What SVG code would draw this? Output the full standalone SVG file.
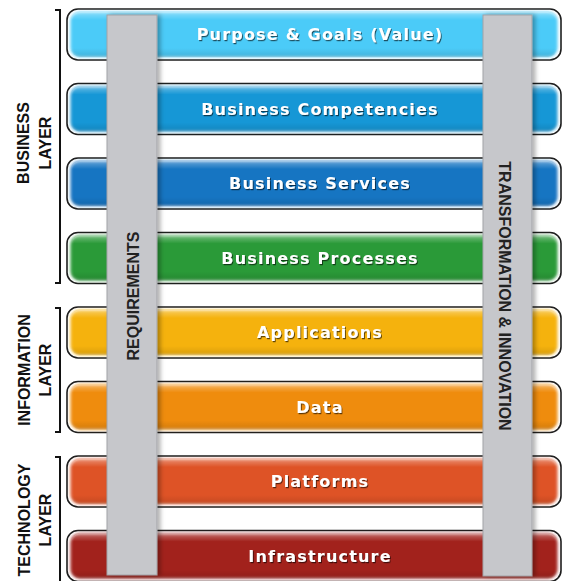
<svg xmlns="http://www.w3.org/2000/svg" width="562" height="581" viewBox="0 0 562 581">
<defs>
<style>
.outline{fill:#ffffff;stroke:#1e1e1e;stroke-width:1.6}
.band{filter:url(#soft)}
.hl{fill:url(#hlg)}
.lbl{font-family:"DejaVu Sans","Liberation Sans",Arial,sans-serif;font-weight:bold;font-size:16px;letter-spacing:1.2px;fill:#ffffff;text-anchor:middle;filter:url(#tshadow)}
.side{font-family:"Liberation Sans",Arial,sans-serif;font-weight:bold;font-size:16px;fill:#111111;text-anchor:middle}
.bar{fill:#c6c7cb;stroke:#a2a3a7;stroke-width:1;filter:url(#barshadow)}
.bartxt{font-family:"Liberation Sans",Arial,sans-serif;font-weight:bold;font-size:16px;fill:#222222;text-anchor:middle}
.brk{fill:none;stroke:#111111;stroke-width:2}
</style>
<filter id="soft" x="-5%" y="-20%" width="110%" height="140%"><feGaussianBlur stdDeviation="1.6"/></filter>
<filter id="tshadow" x="-10%" y="-40%" width="120%" height="180%"><feDropShadow dx="1" dy="1.2" stdDeviation="0.7" flood-color="#000000" flood-opacity="0.6"/></filter>
<filter id="barshadow" x="-30%" y="-5%" width="160%" height="110%"><feDropShadow dx="3" dy="0" stdDeviation="2" flood-color="#000000" flood-opacity="0.3"/></filter>
<linearGradient id="hlg" x1="0" y1="0" x2="0" y2="1">
<stop offset="0" stop-color="#ffffff" stop-opacity="0.35"/>
<stop offset="0.18" stop-color="#ffffff" stop-opacity="0"/>
<stop offset="0.8" stop-color="#000000" stop-opacity="0"/>
<stop offset="1" stop-color="#000000" stop-opacity="0.12"/>
</linearGradient>
</defs>
<rect width="562" height="581" fill="#ffffff"/>

<g id="brackets">
<path class="brk" d="M55,10 H60 V283 H55"/>
<path class="brk" d="M55,308 H60 V432 H55"/>
<path class="brk" d="M55,457 H60 V581"/>
</g>

<g id="business-layer-label" transform="translate(0,143) rotate(-90)">
<text class="side" x="0" y="29">BUSINESS</text>
<text class="side" x="0" y="51">LAYER</text>
</g>
<g id="information-layer-label" transform="translate(0,370) rotate(-90)">
<text class="side" x="0" y="30">INFORMATION</text>
<text class="side" x="0" y="51">LAYER</text>
</g>
<g id="technology-layer-label" transform="translate(0,520) rotate(-90)">
<text class="side" x="0" y="30">TECHNOLOGY</text>
<text class="side" x="0" y="51">LAYER</text>
</g>

<g id="row-purpose">
<rect class="outline" x="67" y="9" width="494" height="51" rx="11"/>
<rect class="band" x="70.5" y="12" width="487" height="45" rx="9" fill="#4ccbf8"/>
<rect class="hl" x="71" y="12" width="486" height="45" rx="9"/>
<text class="lbl" x="320" y="40">Purpose &amp; Goals (Value)</text>
</g>
<g id="row-competencies">
<rect class="outline" x="67" y="83.5" width="494" height="51" rx="11"/>
<rect class="band" x="70.5" y="86.5" width="487" height="45" rx="9" fill="#1897d6"/>
<rect class="hl" x="71" y="86.5" width="486" height="45" rx="9"/>
<text class="lbl" x="320" y="114.5">Business Competencies</text>
</g>
<g id="row-services">
<rect class="outline" x="67" y="158" width="494" height="51" rx="11"/>
<rect class="band" x="70.5" y="161" width="487" height="45" rx="9" fill="#1575c2"/>
<rect class="hl" x="71" y="161" width="486" height="45" rx="9"/>
<text class="lbl" x="320" y="189">Business Services</text>
</g>
<g id="row-processes">
<rect class="outline" x="67" y="232.5" width="494" height="51" rx="11"/>
<rect class="band" x="70.5" y="235.5" width="487" height="45" rx="9" fill="#2a9a38"/>
<rect class="hl" x="71" y="235.5" width="486" height="45" rx="9"/>
<text class="lbl" x="320" y="263.5">Business Processes</text>
</g>
<g id="row-applications">
<rect class="outline" x="67" y="307" width="494" height="51" rx="11"/>
<rect class="band" x="70.5" y="310" width="487" height="45" rx="9" fill="#f5b211"/>
<rect class="hl" x="71" y="310" width="486" height="45" rx="9"/>
<text class="lbl" x="320" y="338">Applications</text>
</g>
<g id="row-data">
<rect class="outline" x="67" y="381.5" width="494" height="51" rx="11"/>
<rect class="band" x="70.5" y="384.5" width="487" height="45" rx="9" fill="#ef8c0b"/>
<rect class="hl" x="71" y="384.5" width="486" height="45" rx="9"/>
<text class="lbl" x="320" y="412.5">Data</text>
</g>
<g id="row-platforms">
<rect class="outline" x="67" y="456" width="494" height="51" rx="11"/>
<rect class="band" x="70.5" y="459" width="487" height="45" rx="9" fill="#de5326"/>
<rect class="hl" x="71" y="459" width="486" height="45" rx="9"/>
<text class="lbl" x="320" y="487">Platforms</text>
</g>
<g id="row-infrastructure">
<rect class="outline" x="67" y="530.5" width="494" height="51" rx="11"/>
<rect class="band" x="70.5" y="533.5" width="487" height="45" rx="9" fill="#a2241f"/>
<rect class="hl" x="71" y="533.5" width="486" height="45" rx="9"/>
<text class="lbl" x="320" y="561.5">Infrastructure</text>
</g>

<g id="bar-requirements">
<rect class="bar" x="107" y="15" width="50" height="560"/>
<text class="bartxt" transform="translate(0,296) rotate(-90)" x="0" y="139">REQUIREMENTS</text>
</g>
<g id="bar-transformation">
<rect class="bar" x="483" y="15" width="49" height="561"/>
<text class="bartxt" transform="translate(499,296) rotate(90)" x="0" y="0">TRANSFORMATION &amp; INNOVATION</text>
</g>
</svg>
